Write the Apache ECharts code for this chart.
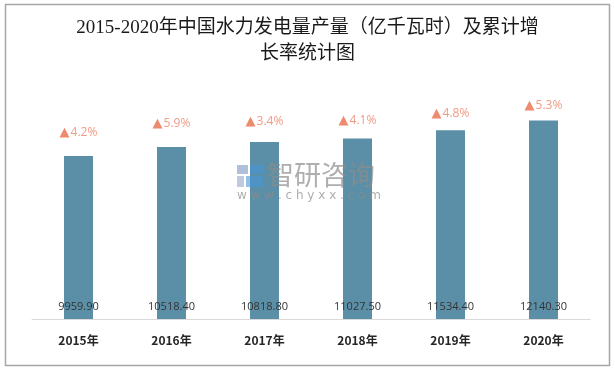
<!DOCTYPE html>
<html>
<head>
<meta charset="utf-8">
<script src="https://cdn.jsdelivr.net/npm/echarts@6/dist/echarts.min.js"></script>
<style>
html,body{margin:0;padding:0;background:#fff;}
#c{width:615px;height:368px;}
</style>
</head>
<body>
<div id="c"></div>
<script>
var categories = ['2015年', '2016年', '2017年', '2018年', '2019年', '2020年'];
var output = [9959.90, 10518.40, 10818.80, 11027.50, 11534.40, 12140.30];
var growth = ['4.2%', '5.9%', '3.4%', '4.1%', '4.8%', '5.3%'];
var titleText = '2015-2020年中国水力发电量产量（亿千瓦时）及累计增\n长率统计图';

// label lift above each bar (style only)
var lift = [17, 16.5, 14, 11.5, 10, 8];

var chart = echarts.init(document.getElementById('c'), null, {renderer: 'canvas'});

var wmColor = 'rgba(140,140,140,0.7)';
var option = {
  backgroundColor: '#fff',
  animation: false,
  title: {
    text: titleText,
    left: 'center',
    top: 10,
    textStyle: {
      fontFamily: '"Liberation Serif","Noto Sans CJK SC",serif',
      fontSize: 19,
      fontWeight: 'normal',
      color: '#1a1a1a',
      lineHeight: 26
    }
  },
  grid: {left: 32, right: 25, top: 90, bottom: 49, containLabel: false},
  xAxis: {
    type: 'category',
    data: categories,
    axisLine: {lineStyle: {color: '#d9d9d9', width: 1}},
    axisTick: {show: false},
    axisLabel: {
      margin: 15,
      fontSize: 12,
      fontWeight: 'bold',
      color: '#262626',
      fontFamily: '"Noto Sans CJK SC",sans-serif'
    }
  },
  yAxis: {
    type: 'value',
    min: 0,
    max: 14000,
    show: false,
    splitLine: {show: false}
  },
  graphic: [
    {
      type: 'rect', left: 3, top: 2, z: 100, silent: true,
      shape: {width: 604, height: 361},
      style: {fill: 'none', stroke: '#a6a6a6', lineWidth: 1.5}
    },
    {type: 'rect', z: 100, silent: true, shape: {x: 237, y: 165, width: 11, height: 9}, style: {fill: 'rgba(110,140,185,0.55)'}},
    {type: 'rect', z: 100, silent: true, shape: {x: 250, y: 165, width: 13, height: 9}, style: {fill: 'rgba(70,150,215,0.6)'}},
    {type: 'rect', z: 100, silent: true, shape: {x: 237, y: 176, width: 7, height: 11}, style: {fill: 'rgba(110,140,185,0.45)'}},
    {type: 'rect', z: 100, silent: true, shape: {x: 246, y: 176, width: 17, height: 11}, style: {fill: 'rgba(70,150,215,0.6)'}},
    {type: 'text', z: 100, silent: true, x: 267, y: 161, style: {text: '智研咨询', font: '27px "Noto Sans CJK SC"', fill: wmColor}},
    {type: 'text', z: 100, silent: true, x: 237, y: 190, style: {text: 'w w w . c h y x x . c o m', font: '12px "DejaVu Sans"', fill: wmColor}}
  ],
  series: [{
    type: 'bar',
    data: output.map(function (v, i) {
      return {
        value: v,
        label: {
          show: true,
          position: 'top',
          distance: lift[i],
          formatter: '{t|▲}{v|' + growth[i] + '}',
          rich: {
            t: {color: '#EE8B6F', fontSize: 13, fontFamily: 'DejaVu Sans', padding: [0, 1, 0, 0]},
            v: {color: '#F29A84', fontSize: 12, fontFamily: '"Open Sans",sans-serif'}
          }
        }
      };
    }),
    barWidth: 29,
    itemStyle: {color: '#5B8FA7'},
    z: 2
  }, {
    type: 'bar',
    data: output,
    barWidth: 29,
    barGap: '-100%',
    itemStyle: {color: 'transparent'},
    label: {
      show: true,
      position: 'insideBottom',
      distance: 7,
      formatter: function (p) { return p.value.toFixed(2); },
      color: '#333',
      fontSize: 11,
      fontFamily: '"Open Sans",sans-serif'
    },
    z: 3
  }]
};
chart.setOption(option);
</script>
</body>
</html>
